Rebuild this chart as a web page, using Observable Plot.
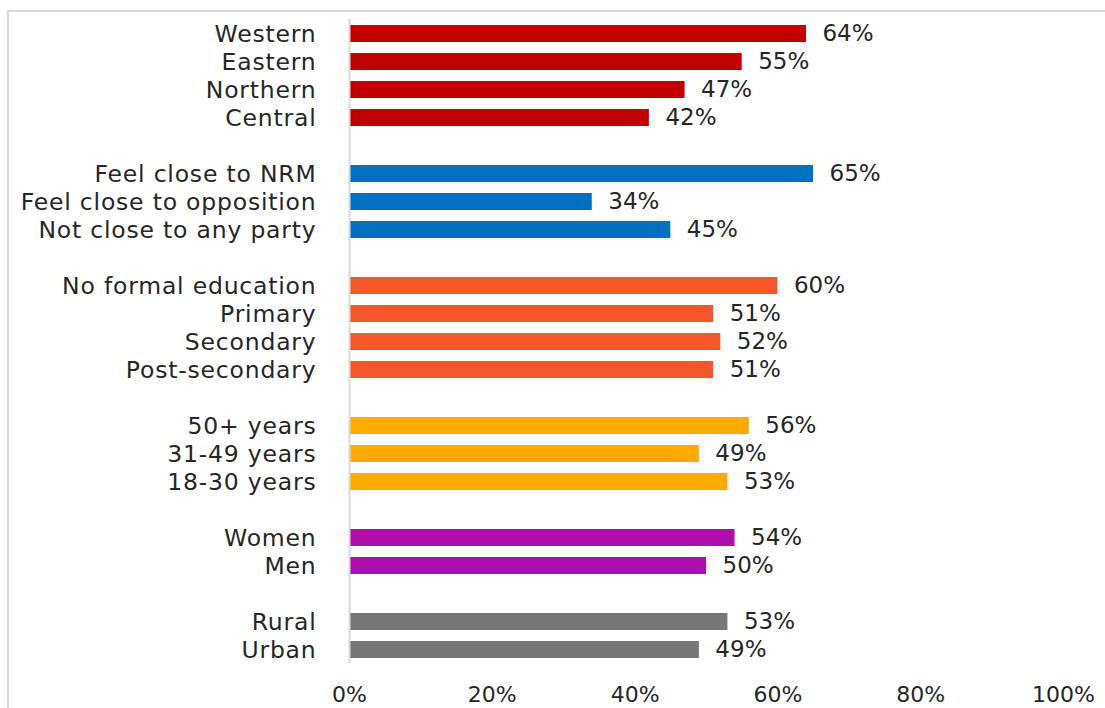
<!DOCTYPE html>
<html>
<head>
<meta charset="utf-8">
<script src="https://cdn.jsdelivr.net/npm/d3@7"></script>
<script src="https://cdn.jsdelivr.net/npm/@observablehq/plot@0.6"></script>
<style>
  html, body { margin: 0; padding: 0; background: #fff; overflow: hidden; }
  #wrap { position: relative; width: 1105px; height: 708px; }
  #border { position: absolute; left: 7px; top: 10px; width: 1200px; height: 800px; border: 2px solid #d9d9d9; box-sizing: border-box; }
  #chart { position: absolute; left: 0; top: 0; }
  #chart svg g[aria-label="y-axis tick label"] text { letter-spacing: 0.8px; }
</style>
</head>
<body>
<div id="wrap"><div id="border"></div><div id="chart"></div></div>
<script>
// Categories and values (top to bottom)
const regionLabels = ["Western", "Eastern", "Northern", "Central"];
const regionValues = [64, 55, 47, 42];
const partyLabels = ["Feel close to NRM", "Feel close to opposition", "Not close to any party"];
const partyValues = [65, 34, 45];
const educationLabels = ["No formal education", "Primary", "Secondary", "Post-secondary"];
const educationValues = [60, 51, 52, 51];
const ageLabels = ["50+ years", "31-49 years", "18-30 years"];
const ageValues = [56, 49, 53];
const genderLabels = ["Women", "Men"];
const genderValues = [54, 50];
const locationLabels = ["Rural", "Urban"];
const locationValues = [53, 49];
const groupColors = ["#C00000", "#0070C0", "#F4572B", "#FFAA00", "#AE0FAA", "#777777"];
const xTicks = [0, 20, 40, 60, 80, 100];

const groups = [
  [regionLabels, regionValues],
  [partyLabels, partyValues],
  [educationLabels, educationValues],
  [ageLabels, ageValues],
  [genderLabels, genderValues],
  [locationLabels, locationValues]
];

const rows = [];
const domain = [];
groups.forEach(([labels, values], g) => {
  if (g > 0) domain.push("gap" + g);
  labels.forEach((label, i) => {
    domain.push(label);
    rows.push({label, value: values[i], color: groupColors[g]});
  });
});

const font = "'Century Gothic', 'DejaVu Sans', sans-serif";
const fs = 23.5;

const chart = Plot.plot({
  width: 1105,
  height: 708,
  marginLeft: 349,
  marginRight: 42,
  marginTop: 19,
  marginBottom: 45,
  style: {fontFamily: font, fontSize: fs + "px", color: "#262626", background: "transparent"},
  x: {domain: [0, 100]},
  y: {domain, padding: 0.4, paddingOuter: 0.2},
  marks: [
    Plot.barX(rows, {x: "value", y: "label", fill: "color"}),
    Plot.ruleX([0], {stroke: "#d9d9d9", strokeWidth: 2}),
    Plot.text(rows, {x: "value", y: "label", text: d => d.value + "%", textAnchor: "start", dx: 16, fill: "#262626", fontSize: 23}),
    Plot.axisY({tickSize: 0, tickPadding: 33, fontSize: fs, label: null, tickFormat: d => d.startsWith("gap") ? "" : d}),
    Plot.axisX({ticks: xTicks, tickSize: 0, tickPadding: 23, fontSize: 22, tickFormat: d => d + "%", label: null})
  ]
});
document.getElementById("chart").appendChild(chart);
</script>
</body>
</html>
